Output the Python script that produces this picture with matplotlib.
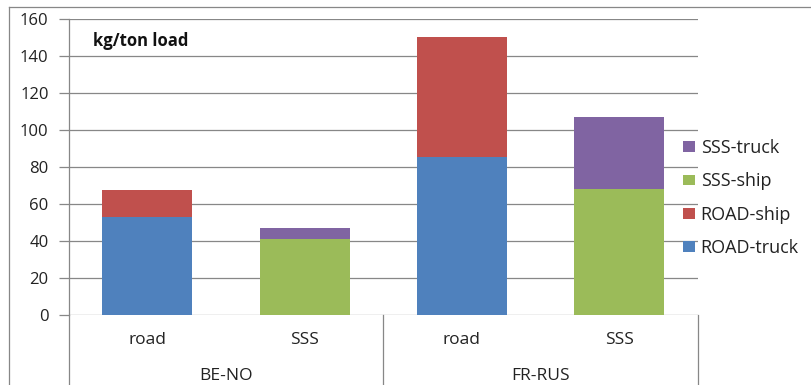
import matplotlib
matplotlib.use("Agg")
import matplotlib.pyplot as plt
from matplotlib.lines import Line2D
import numpy as np

plt.rcParams['font.family'] = ['Open Sans', 'DejaVu Sans']

# Data
groups = ["BE-NO", "FR-RUS"]
modes = ["road", "SSS", "road", "SSS"]
road_truck = [53.0, 0.0, 85.5, 0.0]
road_ship = [14.5, 0.0, 65.0, 0.0]
sss_ship = [0.0, 41.3, 0.0, 68.0]
sss_truck = [0.0, 5.8, 0.0, 39.0]
yticks = [0, 20, 40, 60, 80, 100, 120, 140, 160]

c_blue = "#4f81bd"
c_red = "#c0504d"
c_green = "#9bbb59"
c_purple = "#8064a2"
grid_c = "#878787"
txt_c = "#222222"

fig = plt.figure(figsize=(8.12, 3.85), dpi=100)
ax = fig.add_axes([68.7 / 812, 70 / 385, 629 / 812, 295.7 / 385])

x = np.arange(len(modes))
w = 0.572
b1 = ax.bar(x, road_truck, w, color=c_blue, label="ROAD-truck", zorder=3)
b2 = ax.bar(x, road_ship, w, bottom=road_truck, color=c_red, label="ROAD-ship", zorder=3)
b3 = ax.bar(x, sss_ship, w, color=c_green, label="SSS-ship", zorder=3)
b4 = ax.bar(x, sss_truck, w, bottom=sss_ship, color=c_purple, label="SSS-truck", zorder=3)

ax.set_xlim(-0.5, 3.5)
ax.set_ylim(0, 160)
ax.set_yticks(yticks)
ax.set_yticklabels([str(v) for v in yticks], fontsize=12, color=txt_c)
ax.yaxis.grid(True, color=grid_c, linewidth=0.9)
ax.set_axisbelow(True)
ax.tick_params(axis='y', length=7, color=grid_c, width=0.9, pad=7.5)
ax.tick_params(axis='x', length=0)
ax.set_xticks([])

for s in ["top", "right", "bottom"]:
    ax.spines[s].set_visible(False)
ax.spines["left"].set_color(grid_c)
ax.spines["left"].set_linewidth(0.9)

tr = ax.get_xaxis_transform()
# Category separators below the baseline
for xs in [-0.5, 1.5, 3.5]:
    ax.plot([xs, xs], [0, -0.4], transform=tr, color=grid_c, lw=0.9, clip_on=False)

# Mode labels and group labels
for xi, m in zip(x, modes):
    ax.text(xi, -0.085, m, transform=tr, ha="center", va="center", fontsize=12.5, color=txt_c)
for gi, g in enumerate(groups):
    ax.text(gi * 2 + 0.5, -0.205, g, transform=tr, ha="center", va="center", fontsize=12.5, color=txt_c)

ax.text(0.038, 0.925, "kg/ton load", transform=ax.transAxes, fontsize=12,
        fontweight="bold", ha="left", va="center", color="#111111")

handles = [b4, b3, b2, b1]
labels = ["SSS-truck", "SSS-ship", "ROAD-ship", "ROAD-truck"]
leg = fig.legend(handles, labels, loc="upper left", bbox_to_anchor=(683 / 812, 1 - 139 / 385),
                 frameon=False, fontsize=13, handlelength=0.68, handleheight=0.55,
                 handletextpad=0.3, labelspacing=0.85, borderaxespad=0, borderpad=0)
for t in leg.get_texts():
    t.set_color(txt_c)

# Outer chart border
fig.add_artist(Line2D([9.3 / 812, 1.0], [1 - 7.3 / 385] * 2, color=grid_c, lw=0.9,
                      transform=fig.transFigure))
fig.add_artist(Line2D([9.3 / 812] * 2, [0, 1 - 7.3 / 385], color=grid_c, lw=0.9,
                      transform=fig.transFigure))

fig.savefig("out.png", dpi=100, facecolor="white")
